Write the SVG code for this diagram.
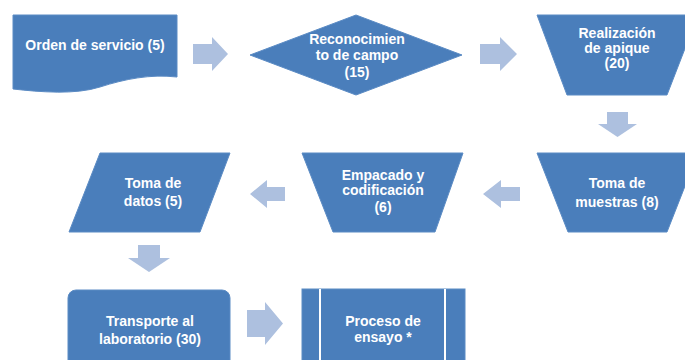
<svg xmlns="http://www.w3.org/2000/svg" width="685" height="360" viewBox="0 0 685 360">
<style>
.n{fill:#4A7EBB;stroke:#5B8BC4;stroke-width:1}
.a{fill:#ADC0DF}
.t{fill:#fff;font-family:"Liberation Sans",Arial,sans-serif;font-weight:bold;font-size:14px;text-anchor:middle}
</style>
<rect width="685" height="360" fill="#fff"/>
<g id="connectors">
<polygon class="a" points="193,44 212,44 212,37 228,54 212,71 212,64 193,64"/>
<polygon class="a" points="480,44 500,44 500,37 517,54 500,71 500,64 480,64"/>
<polygon class="a" points="607,112 628,112 628,124 637,124 617.5,137 598,124 607,124"/>
<polygon class="a" points="520,187 501,187 501,180 483,194 501,208 501,201 520,201"/>
<polygon class="a" points="285,187 267,187 267,180 250,194 267,208 267,201 285,201"/>
<polygon class="a" points="138,245 160,245 160,258 170,258 149,272 128,258 138,258"/>
<polygon class="a" points="247,310 265,310 265,302 283,323.5 265,345 265,337 247,337"/>
</g>
<g id="n1">
<path class="n" d="M13,15 H177 V77 C150,74 125,79 100,87 C75,95 40,92 13,89 Z"/>
<text class="t" x="95" y="50">Orden de servicio (5)</text>
</g>
<g id="n2">
<polygon class="n" points="250,55 356,15 462,55 356,95"/>
<text class="t" x="357" y="44">Reconocimien</text>
<text class="t" x="357" y="60">to de campo</text>
<text class="t" x="357" y="77">(15)</text>
</g>
<g id="n3">
<polygon class="n" points="537,15 698,15 667,95 567,95"/>
<text class="t" x="617" y="38">Realización</text>
<text class="t" x="617" y="53">de apique</text>
<text class="t" x="617" y="68">(20)</text>
</g>
<g id="n4">
<polygon class="n" points="537,153 698,153 667,232 568,232"/>
<text class="t" x="617" y="188">Toma de</text>
<text class="t" x="617" y="207">muestras (8)</text>
</g>
<g id="n5">
<polygon class="n" points="302,153 463,153 435,232 333,232"/>
<text class="t" x="383" y="180">Empacado y</text>
<text class="t" x="383" y="195">codificación</text>
<text class="t" x="383" y="212">(6)</text>
</g>
<g id="n6">
<polygon class="n" points="100,153 230,153 200,232 69,232"/>
<text class="t" x="153" y="188">Toma de</text>
<text class="t" x="153" y="206">datos (5)</text>
</g>
<g id="n7">
<rect class="n" x="68" y="290" width="162" height="85" rx="8"/>
<text class="t" x="150" y="326">Transporte al</text>
<text class="t" x="150" y="344">laboratorio (30)</text>
</g>
<g id="n8">
<rect class="n" x="302" y="289" width="163" height="86"/>
<line x1="320" y1="289" x2="320" y2="360" stroke="#fff" stroke-width="2"/>
<line x1="445" y1="289" x2="445" y2="360" stroke="#fff" stroke-width="2"/>
<text class="t" x="383" y="326">Proceso de</text>
<text class="t" x="383" y="342">ensayo *</text>
</g>
</svg>
